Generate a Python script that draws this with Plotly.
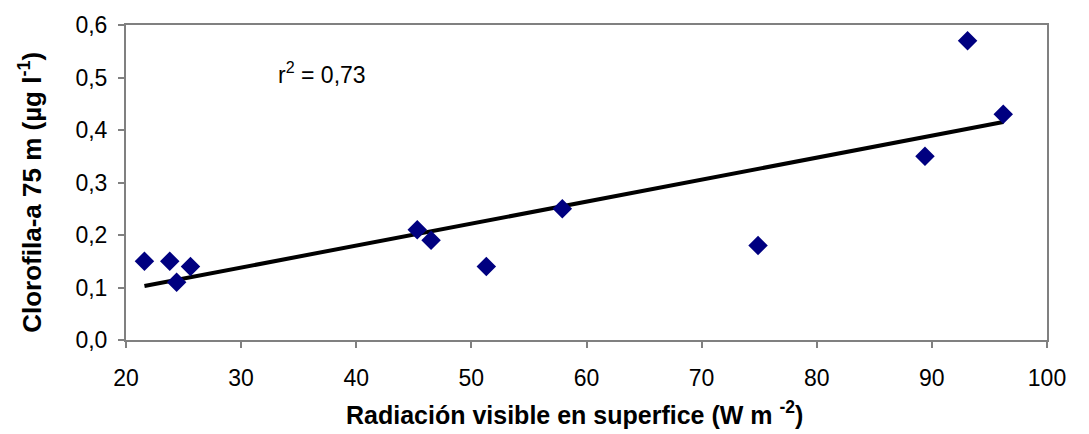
import numpy as np
import plotly.graph_objects as go

radiacion = [21.6, 23.8, 24.4, 25.6, 45.3, 46.5, 51.3, 57.9, 74.9, 89.4, 93.1, 96.2]
clorofila = [0.15, 0.15, 0.11, 0.14, 0.21, 0.19, 0.14, 0.25, 0.18, 0.35, 0.57, 0.43]
x_ticks = [20, 30, 40, 50, 60, 70, 80, 90, 100]
y_ticks = [0.0, 0.1, 0.2, 0.3, 0.4, 0.5, 0.6]

slope, intercept = np.polyfit(radiacion, clorofila, 1)
xt = np.array([min(radiacion), max(radiacion)])
yt = slope * xt + intercept

font = "Liberation Sans, Arial, sans-serif"

L, R, T, B = 126, 42, 19, 94
W, H = 1089, 434
pw = W - L - R
ph = H - T - B


def px(x):
    return (x - L) / pw


def py(y):
    return (H - B - y) / ph


fig = go.Figure()
fig.add_trace(go.Scatter(x=list(xt), y=list(yt), mode="lines",
                         line=dict(color="black", width=4), hoverinfo="skip"))
fig.add_trace(go.Scatter(x=radiacion, y=clorofila, mode="markers",
                         marker=dict(symbol="diamond", color="#000080", size=15,
                                     line=dict(width=0))))

axis_common = dict(showgrid=False, zeroline=False, showline=True, linecolor="#808080",
                   linewidth=2, mirror=True, ticks="outside", ticklen=6,
                   tickcolor="#808080", tickwidth=1.5,
                   tickfont=dict(size=23, family=font, color="black"))

fig.update_layout(
    width=W, height=H,
    margin=dict(l=L, r=R, t=T, b=B),
    plot_bgcolor="white", paper_bgcolor="white",
    showlegend=False,
    separators=",.",
    font=dict(family=font, size=20, color="black"),
    xaxis=dict(range=[20, 100], tickvals=x_ticks, ticklabelstandoff=10, **axis_common),
    yaxis=dict(range=[0, 0.6], tickvals=y_ticks, tickformat=".1f",
               ticklabelstandoff=6, **axis_common),
    annotations=[
        dict(text="r<sup>2</sup> = 0,73", x=px(322), y=py(68), xref="paper", yref="paper",
             xanchor="center", yanchor="middle", showarrow=False,
             font=dict(size=23, family=font)),
        dict(text="<b>Radiación visible en superfice (W m <sup>-2</sup>)</b>",
             xref="paper", yref="paper", x=px(574), y=py(414), xanchor="center",
             yanchor="middle", showarrow=False, font=dict(size=25, family=font)),
        dict(text="<b>Clorofila-a 75 m (µg l<sup>-1</sup>)</b>",
             xref="paper", yref="paper", x=px(31), y=py(190), xanchor="center",
             yanchor="middle", showarrow=False, textangle=-90,
             font=dict(size=26, family=font)),
    ],
)

fig.write_html("out.html")
